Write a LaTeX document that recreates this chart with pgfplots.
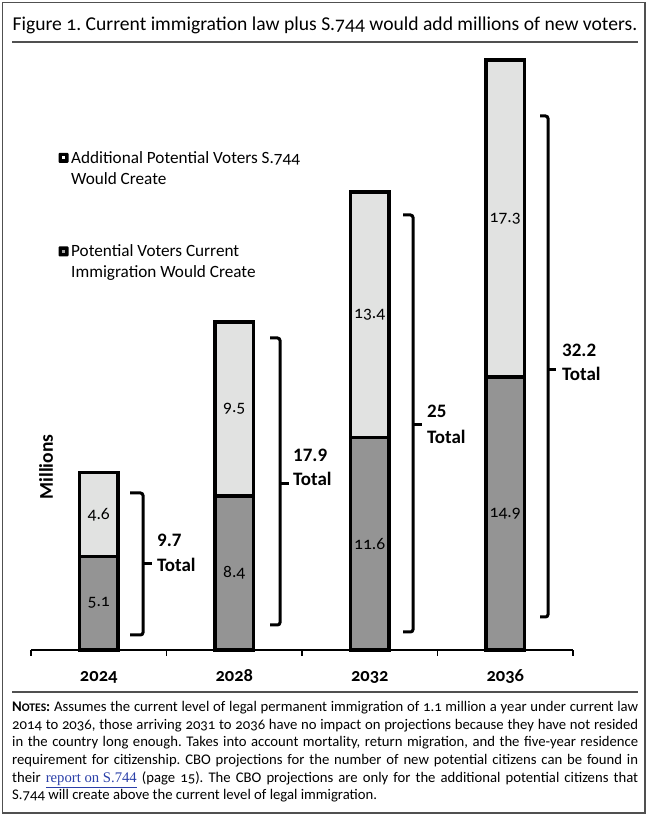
\documentclass[border=0pt]{standalone}
\usepackage{pgfplots}
\pgfplotsset{compat=1.18}
\usepackage{fontspec}
\setmainfont{Carlito}[Numbers=OldStyle]
\newfontfamily\lin{Carlito}[Numbers=Lining]
\newfontfamily\linkfont{Liberation Serif}
\definecolor{barlight}{HTML}{E1E2E1}
\definecolor{bardark}{HTML}{949494}
\definecolor{framegray}{HTML}{505050}
\definecolor{linkblue}{HTML}{2A3FA8}

% one bracket with a centre tick: x0, x1, top, bottom, tip y, tip x (page units, y down)
\newcommand{\bracketmark}[6]{%
  \draw[line width=3pt, rounded corners=2.5pt]
    (#1,818-#3) -- (#2,818-#3) -- (#2,818-#4) -- (#1,818-#4);
  \draw[line width=3pt] (#2,818-#5) -- (#6,818-#5);}
\newcommand{\totallabel}[4]{% x, y of first line, y of second line, value
  \node[anchor=west, font=\lin\bfseries\fontsize{19}{22}\selectfont, inner sep=0pt] at (#1,818-#2) {#4};
  \node[anchor=west, font=\lin\bfseries\fontsize{19}{22}\selectfont, inner sep=0pt] at (#1,818-#3) {Total};}

\tikzset{segval/.style={font=\fontsize{17.5}{20}\selectfont}}

\begin{document}
\frenchspacing
\begin{tikzpicture}[x=1pt,y=1pt]
\useasboundingbox (0,0) rectangle (650,818);
% frame and rules
\draw[framegray, line width=1.5pt] (2.5,5) rectangle (645,815.5);
\draw[framegray, line width=1.6pt] (12,818-42) -- (638,818-42);
\draw[framegray, line width=1.6pt] (12,818-692) -- (638,818-692);

% title
\node[anchor=base, inner sep=0pt, font=\fontsize{19.6}{23}\selectfont] at (325,818-31)
  {Figure 1. Current immigration law plus S.744 would add millions of new voters.};

\begin{axis}[
  at={(31pt,168pt)}, anchor=south west,
  scale only axis, width=542pt, height=590pt,
  xmin=-0.5, xmax=3.5, ymin=0, ymax=32.2,
  clip=false,
  axis x line*=bottom, axis y line=none,
  x axis line style={black, line width=1.2pt},
  xtick={0,1,2,3},
  xticklabels={2024,2028,2032,2036},
  xticklabel style={font=\bfseries\fontsize{18.5}{20}\selectfont, anchor=base, yshift=-32pt},
  major tick length=0pt,
  extra x ticks={-0.5,0.5,1.5,2.5,3.5},
  extra x tick labels={},
  extra x tick style={major tick length=6pt, tick align=outside,
    tick style={black, line width=1.2pt}},
  ybar stacked, bar width=38.5pt,
]
\addplot[fill=bardark, draw=black, line width=3.5pt] coordinates {(0,5.1) (1,8.4) (2,11.6) (3,14.9)};
\addplot[fill=barlight, draw=black, line width=3.5pt] coordinates {(0,4.6) (1,9.5) (2,13.4) (3,17.3)};

% centres of the segments, labelled after the bars are drawn
\coordinate (a1) at (axis cs:0,2.55);
\coordinate (a2) at (axis cs:0,7.4);
\coordinate (b1) at (axis cs:1,4.2);
\coordinate (b2) at (axis cs:1,13.15);
\coordinate (c1) at (axis cs:2,5.8);
\coordinate (c2) at (axis cs:2,18.3);
\coordinate (d1) at (axis cs:3,7.45);
\coordinate (d2) at (axis cs:3,23.55);
\end{axis}

% segment values
\node[segval] at (a1) {5.1};
\node[segval] at (a2) {4.6};
\node[segval] at (b1) {8.4};
\node[segval] at (b2) {9.5};
\node[segval] at (c1) {11.6};
\node[segval] at (c2) {13.4};
\node[segval] at (d1) {14.9};
\node[segval] at (d2) {17.3};

% brackets with totals
\bracketmark{130}{143}{493}{635}{564}{152}
\totallabel{157}{540}{565}{9.7}
\bracketmark{270}{280}{338}{625}{484}{289}
\totallabel{293}{455}{479}{17.9}
\bracketmark{403}{413}{215}{632}{425}{422}
\totallabel{427}{411}{437}{25}
\bracketmark{540}{548}{116}{617}{370}{556}
\totallabel{562}{350}{374}{32.2}

% axis title
\node[rotate=90, font=\lin\bfseries\fontsize{19.5}{22}\selectfont, inner sep=0pt] at (46,818-467) {Millions};

% key
\fill[black, rounded corners=1pt] (58.5,818-163) rectangle (68.5,818-153);
\fill[white] (62,818-159.5) rectangle (65,818-156.5);
\node[anchor=west, align=left, inner sep=0pt, font=\fontsize{17.2}{21}\selectfont] at (71,818-168)
  {Additional Potential Voters S.744\\Would Create};
\fill[black, rounded corners=1pt] (58.5,818-256.5) rectangle (68.5,818-246.5);
\fill[gray!70] (62,818-253) rectangle (65,818-250);
\node[anchor=west, align=left, inner sep=0pt, font=\fontsize{17.2}{21}\selectfont] at (71,818-262.5)
  {Potential Voters Current\\Immigration Would Create};

% notes
\node[anchor=north west, inner sep=0pt, text width=626pt, align=justify,
  font=\fontsize{14.7}{17.7}\selectfont] at (12,818-701) {%
  \textbf{N{\fontsize{11.6}{14}\selectfont OTES}:} Assumes the current level of legal permanent immigration of 1.1 million a year under current law\linebreak
  2014 to 2036, those arriving 2031 to 2036 have no impact on projections because they have not resided\linebreak
  in the country long enough. Takes into account mortality, return migration, and the five-year residence\linebreak
  requirement for citizenship. CBO projections for the number of new potential citizens can be found in\linebreak
  their {\linkfont\color{linkblue}\underline{report on S.744}} (page 15). The CBO projections are only for the additional potential citizens that\linebreak
  S.744 will create above the current level of legal immigration.\par};
\end{tikzpicture}
\end{document}
